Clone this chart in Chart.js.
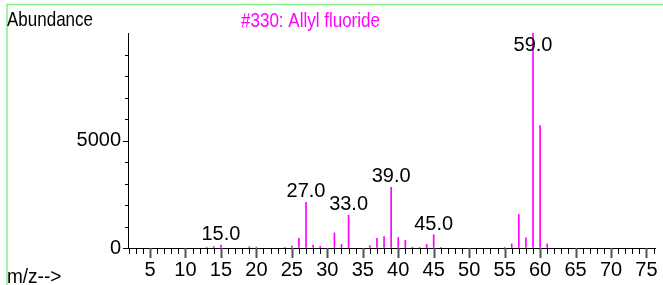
<!DOCTYPE html>
<html><head><meta charset="utf-8">
<script src="https://cdn.jsdelivr.net/npm/chart.js@4/dist/chart.umd.min.js"></script>
<style>html,body{margin:0;padding:0;background:#fff;}#wrap{width:663px;height:285px;position:relative}</style>
</head><body><div id="wrap"><canvas id="c" width="663" height="285"></canvas></div>
<script>
const titleText = '#330: Allyl fluoride';
const yAxisTitle = 'Abundance';
const xAxisTitle = 'm/z-->';
const mzValues   = [13, 14, 15, 19, 20, 24, 25, 26, 27, 28, 29, 31, 32, 33, 36, 37, 38, 39, 40, 41, 42, 43, 44, 45, 46, 55, 56, 57, 58, 59, 60, 61];
const abundances = [40, 70, 140, 60, 40, 30, 90, 450, 2120, 140, 80, 700, 170, 1530, 110, 450, 530, 2820, 490, 360, 40, 30, 170, 620, 20, 30, 190, 1560, 470, 10000, 5690, 190];
const labeledPeaks = [15, 27, 33, 39, 45, 59];
const xTickLabels = [5, 10, 15, 20, 25, 30, 35, 40, 45, 50, 55, 60, 65, 70, 75];
const yTickLabels = [0, 5000];

const FONT = '"Liberation Sans", Arial, Helvetica, sans-serif';
const MAGENTA = '#ff00ff';

function stretchedText(ctx, text, x, y, size, sy, color, align) {
  ctx.save();
  ctx.font = size + 'px ' + FONT;
  ctx.fillStyle = color;
  ctx.textAlign = align || 'left';
  ctx.textBaseline = 'alphabetic';
  ctx.translate(x, y);
  ctx.scale(1, sy);
  ctx.fillText(text, 0, 0);
  ctx.restore();
}

const decor = {
  id: 'decor',
  beforeDraw(chart) {
    const ctx = chart.ctx;
    ctx.save();
    ctx.fillStyle = '#fff';
    ctx.fillRect(0, 0, chart.width, chart.height);
    ctx.strokeStyle = '#86ee86';
    ctx.lineWidth = 1.5;
    ctx.beginPath();
    ctx.moveTo(6, 4.5); ctx.lineTo(chart.width, 4.5);
    ctx.moveTo(7, 4); ctx.lineTo(7, chart.height);
    ctx.stroke();
    ctx.restore();
  },
  afterDraw(chart) {
    const ctx = chart.ctx;
    const xs = chart.scales.x, ys = chart.scales.y;
    const ca = chart.chartArea;
    ctx.save();
    for (let m = Math.ceil(xs.min); m <= Math.floor(xs.max); m++) {
      const px = Math.round(xs.getPixelForValue(m)) + 0.5;
      ctx.beginPath();
      if (m % 5 === 0) {
        ctx.strokeStyle = '#555';
        ctx.lineWidth = 2;
        ctx.moveTo(px, ca.bottom); ctx.lineTo(px, ca.bottom + 10);
      } else {
        ctx.strokeStyle = '#000';
        ctx.lineWidth = 1;
        ctx.moveTo(px, ca.bottom); ctx.lineTo(px, ca.bottom + 6);
      }
      ctx.stroke();
    }
    for (let v = 0; v < ys.max; v += 1000) {
      const py = Math.round(ys.getPixelForValue(v)) + 0.5;
      ctx.beginPath();
      ctx.strokeStyle = '#000';
      ctx.lineWidth = 1;
      const len = (v % 5000 === 0) ? 5 : 3;
      ctx.moveTo(ca.left - len, py); ctx.lineTo(ca.left, py);
      ctx.stroke();
    }
    ctx.font = '20px ' + FONT;
    ctx.fillStyle = '#000';
    ctx.textAlign = 'center';
    ctx.textBaseline = 'alphabetic';
    labeledPeaks.forEach(m => {
      const i = mzValues.indexOf(m);
      if (i < 0) return;
      const px = xs.getPixelForValue(m);
      const top = ys.getPixelForValue(abundances[i]);
      const y = Math.max(top - 5, ca.top + 18);
      ctx.fillText(m.toFixed(1), px, y);
    });
    ctx.restore();
    stretchedText(ctx, yAxisTitle, 7, 26, 17, 1.22, '#000', 'left');
    stretchedText(ctx, titleText, 310.5, 27, 17, 1.15, MAGENTA, 'center');
    stretchedText(ctx, xAxisTitle, 7, 283, 19, 1.1, '#000', 'left');
  }
};

new Chart(document.getElementById('c'), {
  type: 'bar',
  data: {
    datasets: [{
      data: mzValues.map((m, i) => ({x: m, y: abundances[i]})),
      backgroundColor: MAGENTA,
      borderWidth: 0,
      barThickness: 1
    }]
  },
  options: {
    responsive: false,
    animation: false,
    layout: {padding: {left: 0, right: 8, top: 33, bottom: 0}},
    plugins: {legend: {display: false}, tooltip: {enabled: false}, title: {display: false}},
    scales: {
      x: {
        type: 'linear', min: 1.9, max: 76.2, offset: false,
        afterFit: s => { s.height = 37; },
        ticks: {
          stepSize: 1, autoSkip: false, maxRotation: 0, minRotation: 0,
          padding: 1, color: '#000', font: {size: 20, family: FONT},
          callback: v => xTickLabels.includes(v) ? String(v) : ''
        },
        grid: {drawOnChartArea: false, drawTicks: true, tickLength: 9, tickColor: 'rgba(0,0,0,0)'},
        border: {display: true, color: '#000', width: 1}
      },
      y: {
        type: 'linear', min: 0, max: 10000,
        afterFit: s => { s.width = 128; },
        ticks: {
          stepSize: 1000, autoSkip: false, padding: 3, color: '#000', font: {size: 20, family: FONT},
          callback: v => yTickLabels.includes(v) ? String(v) : ''
        },
        grid: {drawOnChartArea: false, drawTicks: true, tickLength: 4, tickColor: 'rgba(0,0,0,0)'},
        border: {display: true, color: '#000', width: 1}
      }
    }
  },
  plugins: [decor]
});
</script></body></html>
